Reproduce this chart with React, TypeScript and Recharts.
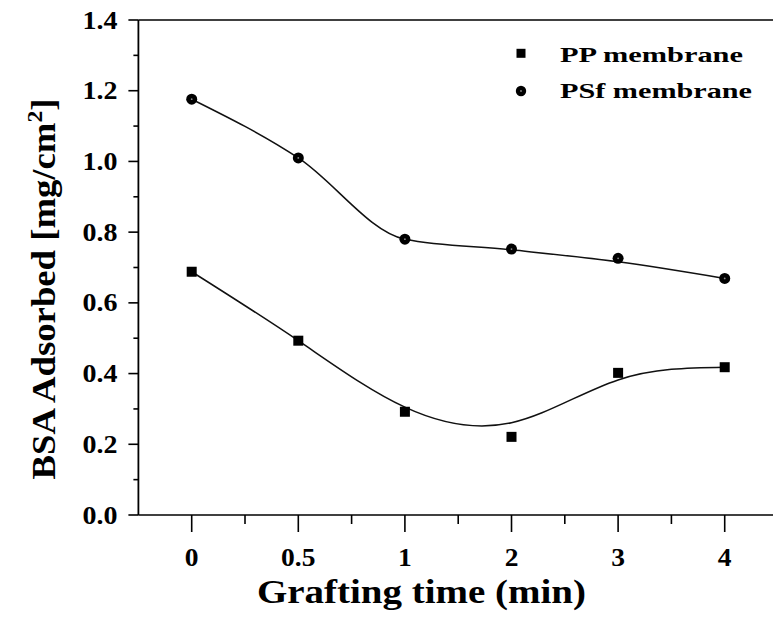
import { ComposedChart, Line, ReferenceLine, XAxis, YAxis } from 'recharts'

// grafting time categories (evenly spaced on the axis)
const TIMES = ['0', '0.5', '1', '2', '3', '4']

// measured BSA adsorption [mg/cm2]
const PP_MEASURED = [0.688, 0.493, 0.292, 0.221, 0.402, 0.418]
const PSF_MEASURED = [1.176, 1.01, 0.78, 0.752, 0.726, 0.669]

// smooth fitted curves at each category
const PP_FIT = [0.688, 0.493, 0.305, 0.261, 0.382, 0.418]
const PSF_FIT = [1.176, 1.01, 0.78, 0.75, 0.716, 0.669]

const Y_TICKS = [0, 0.1, 0.2, 0.3, 0.4, 0.5, 0.6, 0.7, 0.8, 0.9, 1.0, 1.1, 1.2, 1.3, 1.4]

const FONT = 'Liberation Serif, Times New Roman, Times, serif'
const INK = '#000'
const TXT = { fontFamily: FONT, fontWeight: 700 } as const

const data = TIMES.map((time, i) => ({
  idx: i,
  time,
  pp: PP_MEASURED[i],
  psf: PSF_MEASURED[i],
  ppFit: PP_FIT[i],
  psfFit: PSF_FIT[i],
}))

const X_TICKS = TIMES.flatMap((_, i) => [i, i + 0.5])

function XTick({ x, y, payload }: any) {
  const v = payload.value as number
  const major = Number.isInteger(v)
  return (
    <g>
      <line x1={x} x2={x} y1={y} y2={y + (major ? 17 : 9)} stroke={INK} strokeWidth={1.6} />
      {major && TIMES[v] !== undefined && (
        <text
          transform={`translate(${x},566) scale(1.1,1)`}
          textAnchor="middle"
          style={{ ...TXT, fontSize: 25 }}
          fill={INK}
        >
          {TIMES[v]}
        </text>
      )}
    </g>
  )
}

function YTick({ x, y, payload }: any) {
  const v = payload.value as number
  const major = Math.round(v * 10) % 2 === 0
  return (
    <g>
      <line x1={x} x2={x - (major ? 10 : 5)} y1={y} y2={y} stroke={INK} strokeWidth={1.6} />
      {major && (
        <text
          transform={`translate(${x - 21},${y + 8.5}) scale(1.12,1)`}
          textAnchor="end"
          style={{ ...TXT, fontSize: 25 }}
          fill={INK}
        >
          {v.toFixed(1)}
        </text>
      )}
    </g>
  )
}

const SquareDot = ({ cx, cy }: any) => (
  <rect x={cx - 5} y={cy - 5} width={10} height={10} fill={INK} />
)

const CircleDot = ({ cx, cy }: any) => (
  <g>
    <circle cx={cx} cy={cy} r={5.5} fill={INK} />
    <circle cx={cx} cy={cy} r={0.9} fill="#888" />
  </g>
)

const XTitle = () => (
  <text
    x={421.5}
    y={603}
    textAnchor="middle"
    textLength={329}
    lengthAdjust="spacingAndGlyphs"
    style={{ ...TXT, fontSize: 34 }}
    fill={INK}
  >
    Grafting time (min)
  </text>
)

const YTitle = () => (
  <text
    transform="translate(55,289) rotate(-90) scale(1.08,1)"
    textAnchor="middle"
    style={{ ...TXT, fontSize: 34 }}
    fill={INK}
  >
    BSA Adsorbed [mg/cm
    <tspan dy={-13} fontSize={22}>2</tspan>
    <tspan dy={13}>]</tspan>
  </text>
)

export default function App() {
  return (
    <div style={{ position: 'absolute', left: 0, top: 0, width: 773, height: 624, background: '#fff' }}>
      <ComposedChart width={773} height={624} data={data} margin={{ top: 20, right: 0, bottom: 0, left: 0 }}>
        <XAxis
          type="number"
          dataKey="idx"
          domain={[-0.5, 5.453]}
          ticks={X_TICKS}
          interval={0}
          allowDataOverflow
          height={109}
          tickSize={0}
          tickMargin={0}
          tickLine={false}
          tick={XTick}
          axisLine={{ stroke: INK, strokeWidth: 1.6 }}
          label={{ content: XTitle }}
        />
        <YAxis
          type="number"
          domain={[0, 1.4]}
          ticks={Y_TICKS}
          interval={0}
          allowDataOverflow
          width={138.4}
          tickSize={0}
          tickMargin={0}
          tickLine={false}
          tick={YTick}
          axisLine={{ stroke: INK, strokeWidth: 1.8 }}
          label={{ content: YTitle }}
        />
        <ReferenceLine y={1.4} stroke={INK} strokeWidth={1.6} />
        <Line dataKey="psfFit" type="monotone" stroke="#111" strokeWidth={1.5} dot={false} activeDot={false} isAnimationActive={false} />
        <Line dataKey="ppFit" type="natural" stroke="#111" strokeWidth={1.5} dot={false} activeDot={false} isAnimationActive={false} />
        <Line dataKey="psf" stroke="none" dot={CircleDot} activeDot={false} isAnimationActive={false} />
        <Line dataKey="pp" stroke="none" dot={SquareDot} activeDot={false} isAnimationActive={false} />
      </ComposedChart>
      <svg width={773} height={130} style={{ position: 'absolute', left: 0, top: 0, pointerEvents: 'none' }}>
        <rect x={516.5} y={48.8} width={9} height={9} fill={INK} />
        <text x={560} y={61.7} textLength={183} lengthAdjust="spacingAndGlyphs" style={{ ...TXT, fontSize: 22 }} fill={INK}>
          PP membrane
        </text>
        <circle cx={521} cy={91} r={5.2} fill={INK} />
        <circle cx={521} cy={91} r={0.9} fill="#888" />
        <text x={560} y={98.3} textLength={192} lengthAdjust="spacingAndGlyphs" style={{ ...TXT, fontSize: 22 }} fill={INK}>
          PSf membrane
        </text>
      </svg>
    </div>
  )
}
